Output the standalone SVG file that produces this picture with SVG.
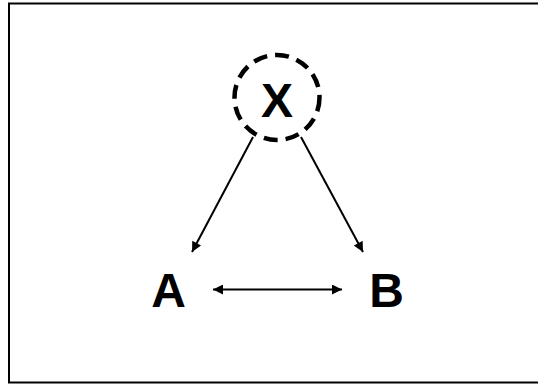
<svg xmlns="http://www.w3.org/2000/svg" width="538" height="385" viewBox="0 0 538 385">
  <style>
    .lbl { font-family: "Liberation Sans", Arial, sans-serif; font-weight: bold; font-size: 48px; fill: #000; text-anchor: middle; }
    .edge { stroke: #000; stroke-width: 2; fill: none; }
  </style>
  <defs>
    <marker id="head" viewBox="0 0 10 10" refX="10" refY="5" markerWidth="5.5" markerHeight="5" orient="auto-start-reverse" markerUnits="strokeWidth">
      <path d="M0,0 L10,5 L0,10 z" fill="#000"/>
    </marker>
  </defs>
  <rect x="0" y="0" width="538" height="385" fill="#fff"/>
  <rect x="9" y="3.5" width="535" height="379" fill="none" stroke="#000" stroke-width="2"/>

  <g id="edges">
    <line class="edge" x1="253" y1="137" x2="192" y2="252" marker-end="url(#head)"/>
    <line class="edge" x1="301" y1="137" x2="363" y2="252" marker-end="url(#head)"/>
    <line class="edge" x1="213" y1="289.5" x2="342" y2="289.5" marker-start="url(#head)" marker-end="url(#head)"/>
  </g>

  <g id="node-x">
    <circle cx="277" cy="97.5" r="42.5" fill="none" stroke="#000" stroke-width="4.5" stroke-dasharray="14 8"/>
    <text class="lbl" x="277" y="117" font-size="49">X</text>
  </g>
  <g id="node-a">
    <text class="lbl" x="168.5" y="307">A</text>
  </g>
  <g id="node-b">
    <text class="lbl" x="386.5" y="307">B</text>
  </g>
</svg>
